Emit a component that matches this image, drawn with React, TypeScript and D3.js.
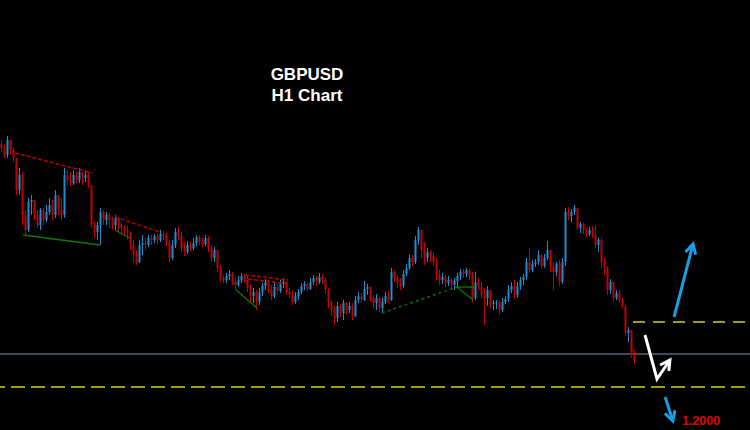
import React from "react";
import * as d3 from "d3";

const W = 750;
const H = 430;

const SYMBOL = "GBPUSD";
const TIMEFRAME = "H1 Chart";
const TARGET_LABEL = "1.2000";

const OPEN0 = 1.2520;
const CLOSE = [
  1.2512,1.2498,1.2528,1.2508,1.2492,1.2428,1.2458,1.2378,1.2348,1.2404,
  1.2408,1.2378,1.2358,1.2388,1.2368,1.2384,1.2398,1.2378,1.2418,1.2388,
  1.2378,1.2458,1.2448,1.2442,1.2458,1.2448,1.2464,1.2452,1.2458,1.2438,
  1.2358,1.2344,1.2358,1.2384,1.2368,1.2378,1.2368,1.2358,1.2372,1.2358,
  1.2352,1.2348,1.2342,1.2318,1.2298,1.2284,1.2318,1.2322,1.2318,1.2332,
  1.2328,1.2336,1.2328,1.2340,1.2336,1.2324,1.2292,1.2318,1.2344,1.2336,
  1.2312,1.2304,1.2318,1.2312,1.2322,1.2334,1.2324,1.2320,1.2332,1.2312,
  1.2292,1.2308,1.2272,1.2252,1.2248,1.2256,1.2260,1.2244,1.2238,1.2248,
  1.2256,1.2248,1.2232,1.2216,1.2224,1.2204,1.2224,1.2236,1.2244,1.2228,
  1.2216,1.2234,1.2226,1.2240,1.2244,1.2224,1.2218,1.2204,1.2216,1.2224,
  1.2236,1.2240,1.2230,1.2244,1.2252,1.2244,1.2254,1.2248,1.2228,1.2204,
  1.2188,1.2172,1.2196,1.2182,1.2202,1.2188,1.2196,1.2176,1.2208,1.2216,
  1.2208,1.2230,1.2234,1.2212,1.2202,1.2212,1.2192,1.2204,1.2216,1.2208,
  1.2264,1.2252,1.2242,1.2236,1.2260,1.2272,1.2292,1.2284,1.2328,1.2348,
  1.2308,1.2292,1.2304,1.2296,1.2284,1.2258,1.2248,1.2254,1.2242,1.2248,
  1.2238,1.2246,1.2256,1.2264,1.2260,1.2268,1.2256,1.2212,1.2244,1.2234,
  1.2218,1.2212,1.2228,1.2200,1.2202,1.2204,1.2188,1.2204,1.2210,1.2228,
  1.2236,1.2218,1.2236,1.2248,1.2254,1.2284,1.2268,1.2280,1.2284,1.2298,
  1.2276,1.2292,1.2308,1.2276,1.2264,1.2280,1.2244,1.2284,1.2384,1.2376,
  1.2384,1.2392,1.2352,1.2360,1.2348,1.2340,1.2348,1.2338,1.2318,1.2328,
  1.2284,1.2272,1.2228,1.2244,1.2212,1.2222,1.2208,1.2196,1.2142,1.2148,1.2098,1.2088,
];
const HIGH = [
  1.2528,1.2518,1.2536,1.2524,1.2512,1.2488,1.2472,1.2464,1.2388,1.2412,
  1.2418,1.2408,1.2388,1.2392,1.2392,1.2398,1.2412,1.2408,1.2428,1.2418,
  1.2412,1.2472,1.2468,1.2464,1.2468,1.2464,1.2472,1.2464,1.2468,1.2464,
  1.2438,1.2364,1.2364,1.2392,1.2388,1.2384,1.2382,1.2374,1.2378,1.2372,
  1.2364,1.2358,1.2356,1.2344,1.2328,1.2308,1.2328,1.2338,1.2332,1.2338,
  1.2338,1.2340,1.2340,1.2348,1.2346,1.2342,1.2328,1.2328,1.2352,1.2354,
  1.2344,1.2324,1.2326,1.2324,1.2332,1.2338,1.2338,1.2332,1.2338,1.2336,
  1.2318,1.2314,1.2308,1.2278,1.2258,1.2262,1.2268,1.2264,1.2252,1.2256,
  1.2262,1.2260,1.2256,1.2238,1.2232,1.2228,1.2232,1.2242,1.2250,1.2248,
  1.2238,1.2242,1.2240,1.2248,1.2252,1.2246,1.2232,1.2228,1.2224,1.2230,
  1.2242,1.2246,1.2242,1.2252,1.2258,1.2256,1.2262,1.2260,1.2252,1.2232,
  1.2208,1.2196,1.2204,1.2200,1.2208,1.2204,1.2204,1.2202,1.2216,1.2224,
  1.2222,1.2246,1.2240,1.2236,1.2218,1.2220,1.2214,1.2212,1.2224,1.2228,
  1.2272,1.2268,1.2258,1.2252,1.2268,1.2280,1.2300,1.2298,1.2336,1.2354,
  1.2344,1.2324,1.2312,1.2308,1.2304,1.2292,1.2268,1.2262,1.2258,1.2256,
  1.2252,1.2252,1.2262,1.2270,1.2270,1.2272,1.2270,1.2264,1.2264,1.2252,
  1.2244,1.2232,1.2236,1.2228,1.2208,1.2208,1.2208,1.2212,1.2216,1.2238,
  1.2244,1.2248,1.2244,1.2254,1.2260,1.2292,1.2312,1.2288,1.2290,1.2308,
  1.2300,1.2300,1.2326,1.2308,1.2284,1.2284,1.2288,1.2292,1.2392,1.2394,
  1.2390,1.2398,1.2392,1.2364,1.2362,1.2352,1.2354,1.2356,1.2358,1.2332,
  1.2332,1.2292,1.2276,1.2250,1.2240,1.2228,1.2228,1.2212,1.2200,1.2154,1.2148,1.2108,
];
const LOW = [
  1.2504,1.2492,1.2492,1.2498,1.2484,1.2418,1.2418,1.2358,1.2336,1.2344,
  1.2378,1.2368,1.2352,1.2348,1.2358,1.2364,1.2378,1.2368,1.2372,1.2378,
  1.2368,1.2372,1.2438,1.2436,1.2438,1.2442,1.2442,1.2438,1.2444,1.2432,
  1.2352,1.2332,1.2328,1.2318,1.2358,1.2358,1.2352,1.2348,1.2348,1.2344,
  1.2342,1.2336,1.2328,1.2308,1.2284,1.2278,1.2282,1.2298,1.2308,1.2314,
  1.2318,1.2322,1.2320,1.2324,1.2328,1.2316,1.2284,1.2288,1.2312,1.2328,
  1.2304,1.2296,1.2300,1.2306,1.2308,1.2316,1.2318,1.2314,1.2316,1.2304,
  1.2284,1.2284,1.2264,1.2244,1.2242,1.2242,1.2248,1.2238,1.2228,1.2234,
  1.2242,1.2242,1.2224,1.2204,1.2202,1.2188,1.2198,1.2216,1.2228,1.2222,
  1.2208,1.2212,1.2220,1.2222,1.2232,1.2218,1.2212,1.2198,1.2200,1.2208,
  1.2220,1.2228,1.2226,1.2228,1.2238,1.2236,1.2240,1.2240,1.2220,1.2192,
  1.2176,1.2158,1.2164,1.2174,1.2168,1.2180,1.2182,1.2168,1.2174,1.2202,
  1.2202,1.2206,1.2218,1.2204,1.2192,1.2188,1.2184,1.2182,1.2200,1.2202,
  1.2206,1.2244,1.2232,1.2228,1.2232,1.2256,1.2268,1.2276,1.2280,1.2318,
  1.2292,1.2278,1.2284,1.2284,1.2276,1.2248,1.2238,1.2240,1.2234,1.2236,
  1.2228,1.2228,1.2234,1.2248,1.2252,1.2254,1.2248,1.2204,1.2208,1.2228,
  1.2212,1.2158,1.2196,1.2192,1.2188,1.2190,1.2178,1.2184,1.2200,1.2204,
  1.2222,1.2210,1.2212,1.2228,1.2238,1.2248,1.2262,1.2264,1.2274,1.2278,
  1.2270,1.2272,1.2288,1.2264,1.2228,1.2256,1.2236,1.2240,1.2276,1.2368,
  1.2364,1.2378,1.2348,1.2342,1.2340,1.2334,1.2336,1.2332,1.2312,1.2304,
  1.2272,1.2258,1.2218,1.2220,1.2206,1.2208,1.2202,1.2192,1.2136,1.2124,1.2092,1.2080,
];

// horizontal levels
const LEVEL_MID = 1.2100;
const LEVEL_UPPER = 1.2164;
const LEVEL_LOWER = 1.2034;
const LEVEL_UPPER_START = 210.5; // bar index where the upper dashed level starts

// trend lines [barIndex, price] pairs
const TL_RED_DASHED = [
  [[4.5, 1.2502], [30.2, 1.2462]],
  [[37.8, 1.2374], [52.8, 1.2344]],
  [[81.2, 1.2258], [95.5, 1.2248]],
  [[82.2, 1.2250], [95.5, 1.2240]],
];
const TL_GREEN_SOLID = [
  [[7.2, 1.2338], [32.8, 1.2318]],
  [[37.8, 1.2348], [42.8, 1.2332]],
  [[78.2, 1.2228], [85.2, 1.2192]],
  [[151.8, 1.2234], [157.8, 1.2234]],
  [[151.8, 1.2234], [157.2, 1.2208]],
];
const TL_GREEN_DOTTED = [
  [[126.8, 1.2182], [151.8, 1.2234]],
];

// scenario arrows [barIndex, price]
const ARROW_UP = [[224.2, 1.2174], [230.5, 1.2320]];
const ARROW_WHITE = [[214.5, 1.2138], [218.5, 1.2050], [222.8, 1.2088]];
const ARROW_DOWN = [[221.2, 1.2014], [223.8, 1.1966]];
const TARGET_POS = [226.8, 1.1958];

const BLUE = "#1c8fd0";
const RED = "#c40000";
const ARROW_BLUE = "#1a9de2";

export default function App() {
  const n = CLOSE.length;
  const idx = d3.range(n);
  const band = d3.scaleBand<number>().domain(idx).range([0, n * 3]).paddingInner(0.34).paddingOuter(0.17);
  const step = band.step();
  const xi = d3.scaleLinear().domain([0, 1]).range([step / 2, step / 2 + step]);
  const y = d3.scaleLinear().domain([1.2808, 1.1948]).range([0, H]);

  const opens = idx.map((i) => (i === 0 ? OPEN0 : CLOSE[i - 1]));

  const lineGen = d3
    .line<number[]>()
    .x((d) => xi(d[0]))
    .y((d) => y(d[1]));

  const arrowHead = (pts: number[][], len = 11, spread = 0.5) => {
    const a = pts[pts.length - 2];
    const b = pts[pts.length - 1];
    const x1 = xi(a[0]), y1 = y(a[1]), x2 = xi(b[0]), y2 = y(b[1]);
    const ang = Math.atan2(y1 - y2, x1 - x2);
    const p1 = [x2 + len * Math.cos(ang + spread), y2 + len * Math.sin(ang + spread)];
    const p2 = [x2 + len * Math.cos(ang - spread), y2 + len * Math.sin(ang - spread)];
    return `M${p1[0]},${p1[1]}L${x2},${y2}L${p2[0]},${p2[1]}`;
  };

  return (
    <svg
      width={W}
      height={H}
      style={{ position: "fixed", left: 0, top: 0, background: "#000" }}
    >
      <rect x={0} y={0} width={W} height={H} fill="#000" />

      {/* horizontal levels */}
      <line x1={0} x2={W} y1={y(LEVEL_MID)} y2={y(LEVEL_MID)} stroke="#8493a3" strokeWidth={1.2} />
      <line x1={0} x2={W} y1={y(LEVEL_LOWER)} y2={y(LEVEL_LOWER)} stroke="#d2d21e" strokeWidth={1.5} strokeDasharray="14,6" strokeDashoffset={9} />
      <line x1={xi(LEVEL_UPPER_START)} x2={W} y1={y(LEVEL_UPPER)} y2={y(LEVEL_UPPER)} stroke="#d2d21e" strokeWidth={1.5} strokeDasharray="12,8" />

      {/* candles */}
      {idx.map((i) => {
        const o = opens[i];
        const c = CLOSE[i];
        const hi = Math.max(HIGH[i], o, c);
        const lo = Math.min(LOW[i], o, c);
        const up = c > o;
        const col = up ? BLUE : RED;
        const x0 = band(i) as number;
        const cx = x0 + band.bandwidth() / 2;
        const top = y(Math.max(o, c));
        const bot = y(Math.min(o, c));
        return (
          <g key={i}>
            <line x1={cx} x2={cx} y1={y(hi)} y2={y(lo)} stroke={col} strokeWidth={1} />
            <rect x={x0} y={top} width={band.bandwidth()} height={Math.max(1, bot - top)} fill={col} />
          </g>
        );
      })}

      {/* trend lines */}
      {TL_RED_DASHED.map((l, k) => (
        <path key={"r" + k} d={lineGen(l) as string} stroke="#b80000" strokeWidth={1.5} strokeDasharray="4,2" fill="none" />
      ))}
      {TL_GREEN_SOLID.map((l, k) => (
        <path key={"g" + k} d={lineGen(l) as string} stroke="#0a7a0a" strokeWidth={1.3} fill="none" />
      ))}
      {TL_GREEN_DOTTED.map((l, k) => (
        <path key={"gd" + k} d={lineGen(l) as string} stroke="#0a6e0a" strokeWidth={1.5} strokeDasharray="3,3" fill="none" />
      ))}

      {/* arrows */}
      <path d={lineGen(ARROW_UP) as string} stroke={ARROW_BLUE} strokeWidth={3} fill="none" />
      <path d={arrowHead(ARROW_UP)} stroke={ARROW_BLUE} strokeWidth={3} fill="none" />
      <path d={lineGen(ARROW_WHITE) as string} stroke="#ffffff" strokeWidth={3} fill="none" strokeLinejoin="miter" />
      <path d={arrowHead(ARROW_WHITE)} stroke="#ffffff" strokeWidth={3} fill="none" />
      <path d={lineGen(ARROW_DOWN) as string} stroke={ARROW_BLUE} strokeWidth={3} fill="none" />
      <path d={arrowHead(ARROW_DOWN)} stroke={ARROW_BLUE} strokeWidth={3} fill="none" />

      <text
        x={xi(TARGET_POS[0])}
        y={y(TARGET_POS[1])}
        fill="#e00000"
        fontFamily="'Liberation Sans', Arial, sans-serif"
        fontWeight="bold"
        fontSize={12.5}
      >
        {TARGET_LABEL}
      </text>

      {/* title */}
      <text x={307} y={80} fill="#fff" textAnchor="middle" fontFamily="'Liberation Sans', Arial, sans-serif" fontWeight="bold" fontSize={17}>
        {SYMBOL}
      </text>
      <text x={307} y={101} fill="#fff" textAnchor="middle" fontFamily="'Liberation Sans', Arial, sans-serif" fontWeight="bold" fontSize={17}>
        {TIMEFRAME}
      </text>
    </svg>
  );
}
